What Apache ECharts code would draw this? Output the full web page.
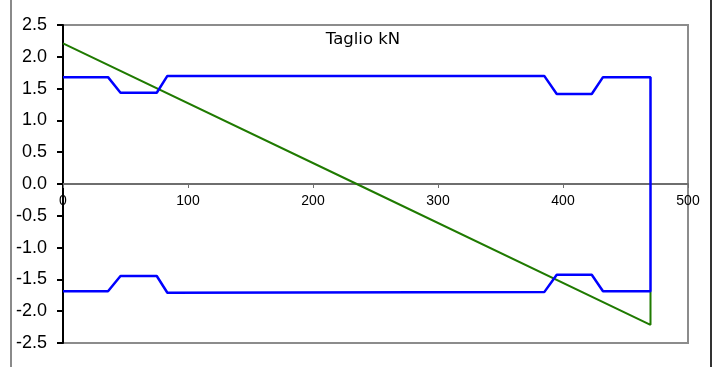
<!DOCTYPE html>
<html>
<head>
<meta charset="utf-8">
<script src="https://cdn.jsdelivr.net/npm/echarts@6/dist/echarts.min.js"></script>
<style>
html,body{margin:0;padding:0;background:#fff;}
#c{width:713px;height:367px;}
</style>
</head>
<body>
<div id="c"></div>
<script>
const titleText = "Taglio kN";
const envelopeX = [0, 36, 46, 75, 83.5, 385, 395, 423, 432, 470, 470, 432, 423, 395, 385, 83.5, 75, 46, 36, 0];
const envelopeY = [1.68, 1.68, 1.435, 1.435, 1.70, 1.70, 1.415, 1.415, 1.68, 1.68, -1.687, -1.687, -1.426, -1.426, -1.70, -1.71, -1.447, -1.447, -1.687, -1.687];
const shearX = [0, 235, 470, 470];
const shearY = [2.21, 0, -2.215, -1.687];
const xTicks = [0, 100, 200, 300, 400, 500];
const yTicks = [-2.5, -2.0, -1.5, -1.0, -0.5, 0.0, 0.5, 1.0, 1.5, 2.0, 2.5];

const gridTop = 25, gridBottom = 24, H = 367;
const plotH = H - gridTop - gridBottom;
const yMin = yTicks[0], yMax = yTicks[yTicks.length - 1];
const zeroOffset = -plotH * (0 - yMin) / (yMax - yMin);

const chart = echarts.init(document.getElementById('c'));
const pairs = (xs, ys) => xs.map((x, i) => [x, ys[i]]);
chart.setOption({
  animation: false,
  backgroundColor: '#fff',
  title: {
    text: titleText, left: 358, top: 26, textAlign: 'center',
    textStyle: {fontFamily: 'DejaVu Sans', fontSize: 16.5, fontWeight: 'normal', color: '#000'}
  },
  grid: {left: 63, right: 25, top: gridTop, bottom: gridBottom, show: true, borderColor: '#8c8c8c', borderWidth: 2, backgroundColor: '#fff'},
  xAxis: {
    type: 'value', min: xTicks[0], max: xTicks[xTicks.length - 1], interval: 100,
    position: 'bottom', offset: zeroOffset,
    axisLine: {onZero: false, lineStyle: {color: '#6e6e6e', width: 2}},
    axisTick: {show: true, length: 4, lineStyle: {color: '#6e6e6e', width: 1}},
    axisLabel: {fontFamily: 'Liberation Sans', fontSize: 14, color: '#000', margin: 10},
    splitLine: {show: false}
  },
  yAxis: {
    type: 'value', min: yMin, max: yMax, interval: 0.5,
    axisLine: {show: true, onZero: false, lineStyle: {color: '#000', width: 2}},
    axisTick: {show: true, length: 6, lineStyle: {color: '#000', width: 2}},
    axisLabel: {fontFamily: 'Liberation Sans', fontSize: 18, color: '#000', margin: 16,
      formatter: v => v.toFixed(1)},
    splitLine: {show: false}
  },
  graphic: [
    {type: 'line', shape: {x1: 11, y1: 0, x2: 11, y2: 367}, style: {stroke: '#8a8a8a', lineWidth: 2}},
    {type: 'line', shape: {x1: 711, y1: 0, x2: 711, y2: 367}, style: {stroke: '#333', lineWidth: 2}}
  ],
  series: [
    {type: 'line', data: pairs(shearX, shearY), symbol: 'none', lineStyle: {color: '#1f7a00', width: 2}, z: 3},
    {type: 'line', data: pairs(envelopeX, envelopeY), symbol: 'none', lineStyle: {color: '#0000ff', width: 2.5}, z: 4}
  ]
});
</script>
</body>
</html>
